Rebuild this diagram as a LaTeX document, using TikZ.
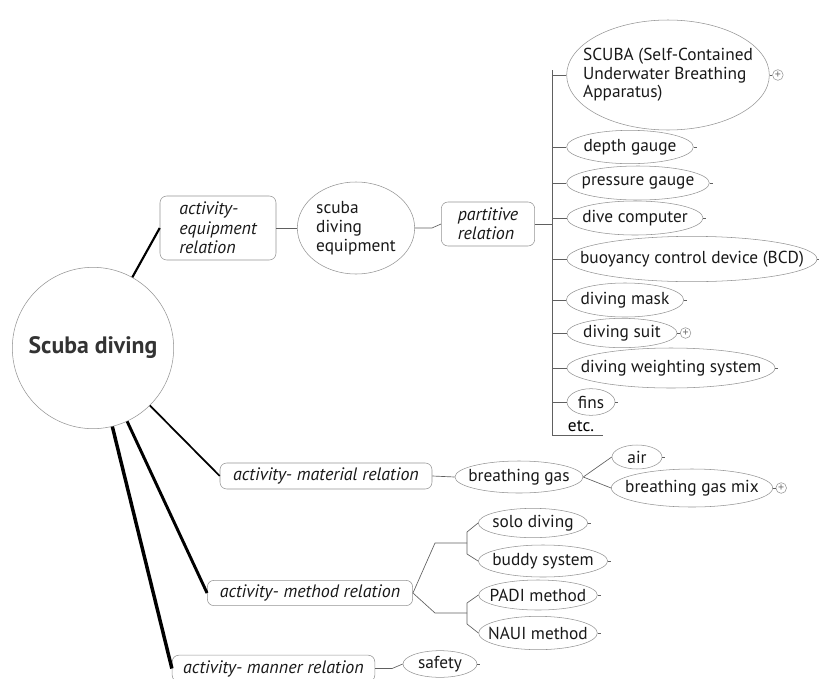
\documentclass[tikz,border=0pt]{standalone}
\usepackage{fontspec}
\setsansfont{PT Sans}
\usetikzlibrary{shapes.geometric,positioning,calc}

\begin{document}
\begin{tikzpicture}[
    x=0.75pt, y=-0.75pt,
    font=\sffamily\fontsize{13}{14}\selectfont,
    topic/.style={ellipse, draw=gray!85, inner xsep=-20pt, inner ysep=-4pt, text=black!90},
    relbox/.style={rectangle, draw=gray!85, rounded corners=5pt, inner sep=0pt, font=\sffamily\itshape\fontsize{13.5}{14.5}\selectfont, text=black!90},
    expander/.style={circle, draw=gray!85, inner sep=0pt, minimum size=8pt, font=\sffamily\fontsize{9}{9}\selectfont, text=gray!90!black},
    link/.style={draw=gray!75!black, line width=0.5pt},
    branch/.style={draw=black},
]
    \useasboundingbox (0,0) rectangle (819,679);

    % Central topic
    \node[circle, draw=gray!85, minimum size=121pt, font=\sffamily\bfseries\fontsize{17.8}{20}\selectfont, text=black!80] (root) at (93,348) {Scuba diving};

    % Equipment branch
    \node[relbox, minimum width=87pt, minimum height=48pt, align=left] (aeq) at (218,228) {activity-\\equipment\\relation};
    \node[topic, minimum width=88pt, minimum height=69pt, align=left] (sde) at (356,228) {scuba\\diving\\equipment};
    \node[relbox, minimum width=70pt, minimum height=33pt, align=left] (part) at (488,224) {partitive\\relation};

    % Parts
    \coordinate (trunk) at (552,70);
    \coordinate (trunkend) at (552,435);
    \node[topic, minimum width=152pt, minimum height=82.5pt, align=left] (scuba) at (668,75) {SCUBA (Self-Contained\\Underwater Breathing\\Apparatus)};
    \node[expander, right=2pt of scuba] (scubaplus) {+};
    \node[topic, minimum width=95pt, minimum height=25pt] (depth) at (630,147) {depth gauge};
    \node[topic, minimum width=107pt, minimum height=25.5pt] (pressure) at (638,183) {pressure gauge};
    \node[topic, minimum width=102pt, minimum height=25.5pt] (divecomp) at (635,218) {dive computer};
    \node[topic, minimum width=187.5pt, minimum height=34pt] (buoy) at (692,259) {buoyancy control device (BCD)};
    \node[topic, minimum width=88pt, minimum height=25.5pt] (mask) at (625,300) {diving mask};
    \node[topic, minimum width=82.5pt, minimum height=22pt] (suit) at (622,333) {diving suit};
    \node[expander, right=2pt of suit] (suitplus) {+};
    \node[topic, minimum width=156pt, minimum height=30pt] (weight) at (671,368) {diving weighting system};
    \node[topic, minimum width=36pt, minimum height=20pt] (fins) at (591,402) {fins};
    \node (etc) at (581,426) {etc.};

    % Material branch
    \node[relbox, minimum width=159pt, minimum height=19.5pt] (mat) at (326,476) {activity- material relation};
    \node[topic, minimum width=96pt, minimum height=24pt] (bgas) at (519,477) {breathing gas};
    \node[topic, minimum width=37.5pt, minimum height=18pt] (air) at (637,457) {air};
    \node[topic, minimum width=121pt, minimum height=28.5pt] (mix) at (692,488) {breathing gas mix};
    \node[expander, right=2pt of mix] (mixplus) {+};

    % Method branch
    \node[relbox, minimum width=154pt, minimum height=19pt] (meth) at (310,593) {activity- method relation};
    \node[topic, minimum width=82pt, minimum height=22pt] (solo) at (533,523) {solo diving};
    \node[topic, minimum width=97pt, minimum height=24pt] (buddy) at (543,561) {buddy system};
    \node[topic, minimum width=89pt, minimum height=22.5pt] (padi) at (538,595) {PADI method};
    \node[topic, minimum width=89pt, minimum height=25pt] (naui) at (538,633) {NAUI method};
    \coordinate (kneeA) at (435,543);
    \coordinate (kneeB) at (435,613);
    \coordinate (forkA) at (467,543);
    \coordinate (forkB) at (467,613);
    \coordinate (forkA1) at (467,532);
    \coordinate (forkA2) at (467,554);
    \coordinate (forkB1) at (467,603);
    \coordinate (forkB2) at (467,624);

    % Manner branch
    \node[relbox, minimum width=152pt, minimum height=20pt] (man) at (273.5,668.5) {activity- manner relation};
    \node[topic, minimum width=55.5pt, minimum height=20pt] (safety) at (440,664) {safety};

    % Main branches
    \draw[branch, line width=1.6pt] (root) -- (aeq.west);
    \draw[branch, line width=1.3pt] (root) -- (mat.west);
    \draw[branch, line width=2.2pt] (root) -- (meth.west);
    \draw[branch, line width=2.6pt] (root) -- (man.west);

    % Sub-branches
    \draw[link] (aeq.east) -- (sde.west);
    \draw[link] (sde.east) -- ++(17,0) -- (part.west);
    \draw[link] (part.east) -- (part.east -| trunk);
    \draw[link] (trunk) -- (trunkend) -- ([xshift=3pt]trunkend -| etc.east);
    \foreach \n in {scuba,depth,pressure,divecomp,buoy,mask,suit,weight,fins}
        \draw[link] (\n.west) -- (\n.west -| trunk);

    \draw[link] (mat.east) -- (bgas.west);
    \draw[link] (air.west) -- (bgas.east) -- (mix.west);

    \draw[link] (meth.east) -- (kneeA) -- (forkA);
    \draw[link] (meth.east) -- (kneeB) -- (forkB);
    \draw[link] (solo.west) -- (forkA1) -- (forkA2) -- (buddy.west);
    \draw[link] (padi.west) -- (forkB1) -- (forkB2) -- (naui.west);

    \draw[link] (man.east) -- ++(17,0) -- (safety.west);

    % Expanders and tails
    \draw[link] (scuba.east) -- (scubaplus);
    \draw[link] (suit.east) -- (suitplus);
    \draw[link] (mix.east) -- (mixplus);
    \foreach \n in {depth,pressure,divecomp,buoy,mask,weight,fins,air,solo,buddy,padi,naui,safety}
        \draw[link] (\n.east) -- ++(3,0);
\end{tikzpicture}
\end{document}
